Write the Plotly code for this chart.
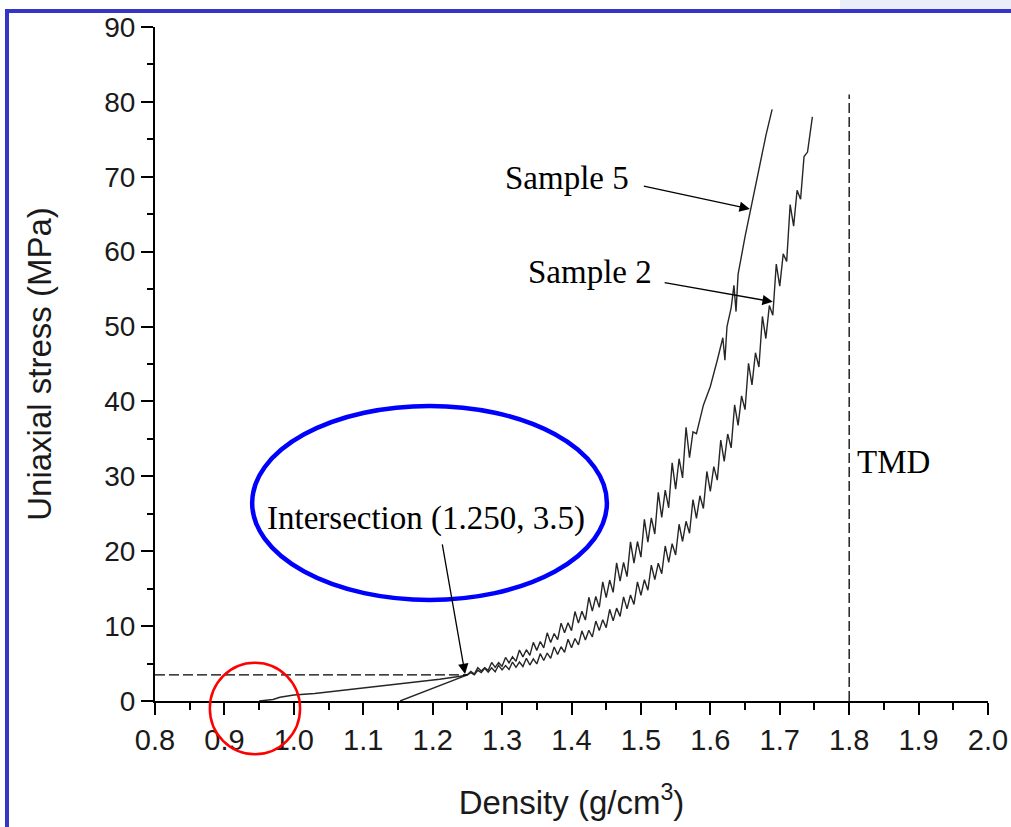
import plotly.graph_objects as go

# ---------------- data ----------------
s5_x = [0.950, 0.970, 0.980, 1.000, 1.030, 1.060, 1.090, 1.120, 1.150, 1.180, 1.210, 1.240, 1.250,
        1.255, 1.260, 1.265, 1.270, 1.275, 1.280, 1.285, 1.290, 1.295, 1.300,
        1.305, 1.310, 1.315, 1.320, 1.325, 1.330, 1.335, 1.340, 1.345, 1.350,
        1.355, 1.360, 1.365, 1.370, 1.375, 1.380, 1.385, 1.390, 1.395, 1.400,
        1.405, 1.410, 1.415, 1.420, 1.425, 1.430, 1.435, 1.440, 1.445, 1.450,
        1.455, 1.460, 1.465, 1.470, 1.475, 1.480, 1.485, 1.490, 1.495, 1.500,
        1.505, 1.510, 1.515, 1.520, 1.525, 1.530, 1.535, 1.540, 1.545, 1.550,
        1.555, 1.560, 1.565, 1.570, 1.575, 1.580,
        1.590, 1.600, 1.610, 1.618, 1.621, 1.624, 1.630, 1.634, 1.637, 1.640,
        1.650, 1.660, 1.670, 1.680, 1.689]
s5_y = [0.0, 0.2, 0.5, 0.8, 1.0, 1.3, 1.6, 1.9, 2.2, 2.5, 2.9, 3.3, 3.5,
        3.95, 3.6, 4.45, 4.0, 4.45, 4.1, 5.15, 4.5, 5.12, 4.65,
        5.82, 5.1, 5.9, 5.3, 6.8, 5.9, 6.85, 6.1, 7.83, 6.76,
        7.93, 7.1, 9.1, 7.8, 9.0, 8.2, 10.4, 9.1, 10.45, 9.4,
        11.95, 10.4, 12.0, 10.8, 13.85, 12.0, 13.95, 12.5, 15.9, 13.8,
        16.15, 14.5, 18.45, 16.0, 18.5, 16.6, 21.25, 18.4, 21.3, 19.2,
        24.25, 21.2, 24.45, 22.3, 27.85, 24.5, 28.15, 25.8, 31.8, 28.3,
        32.35, 29.8, 36.55, 32.5, 35.95, 35.7,
        39.5, 42.0, 45.5, 48.5, 45.5, 50.0, 52.5, 55.5, 52.0, 57.0,
        62.0, 66.5, 71.0, 75.5, 79.0]

s2_x = [1.153, 1.170, 1.190, 1.210, 1.230, 1.250,
        1.255, 1.260, 1.265, 1.270, 1.275, 1.280, 1.285, 1.290, 1.295, 1.300,
        1.305, 1.310, 1.315, 1.320, 1.325, 1.330, 1.335, 1.340, 1.345, 1.350,
        1.355, 1.360, 1.365, 1.370, 1.375, 1.380, 1.385, 1.390, 1.395, 1.400,
        1.405, 1.410, 1.415, 1.420, 1.425, 1.430, 1.435, 1.440, 1.445, 1.450,
        1.455, 1.460, 1.465, 1.470, 1.475, 1.480, 1.485, 1.490, 1.495, 1.500,
        1.505, 1.510, 1.515, 1.520, 1.525, 1.530, 1.535, 1.540, 1.545, 1.550,
        1.555, 1.560, 1.565, 1.570, 1.575, 1.580, 1.585, 1.590, 1.595, 1.600,
        1.605, 1.610, 1.615, 1.620, 1.625, 1.630, 1.635, 1.640, 1.645, 1.650,
        1.655, 1.660, 1.665, 1.670, 1.675, 1.680, 1.685, 1.690, 1.695, 1.700,
        1.705, 1.710, 1.715, 1.720, 1.725, 1.730, 1.735, 1.740, 1.747]
s2_y = [0.0, 0.6, 1.3, 2.0, 2.7, 3.5,
        3.8, 3.5, 4.1, 3.8, 4.37, 3.85, 4.42, 3.9, 4.77, 4.15,
        4.72, 4.2, 5.2, 4.5, 5.2, 4.6, 5.7, 4.8, 5.62, 4.95,
        6.32, 5.4, 6.4, 5.7, 7.2, 6.2, 7.25, 6.5, 8.25, 7.1,
        8.35, 7.5, 9.37, 8.15, 9.45, 8.55, 10.67, 9.4, 10.85, 9.8,
        12.25, 10.7, 12.4, 11.3, 13.9, 12.3, 14.15, 12.9, 15.9, 14.1,
        16.2, 14.8, 18.15, 16.2, 18.4, 17.0, 20.7, 18.5, 21.0, 19.5,
        23.6, 21.3, 24.0, 22.4, 26.9, 24.4, 27.4, 25.7, 30.65, 28.0,
        31.3, 29.5, 34.85, 32.0, 35.65, 33.8, 39.55, 36.8, 40.75, 38.9,
        45.1, 42.2, 46.5, 44.6, 51.35, 48.4, 52.8, 51.5, 58.35, 55.4,
        59.7, 58.7, 66.3, 63.4, 68.2, 67.0, 72.7, 73.3, 78.0]

hline_x = [0.8, 1.25]
hline_y = [3.5, 3.5]
tmd_x = [1.8, 1.8]
tmd_y = [0.0, 81.0]

x_ticks = [0.8, 0.9, 1.0, 1.1, 1.2, 1.3, 1.4, 1.5, 1.6, 1.7, 1.8, 1.9, 2.0]
y_ticks = [0, 10, 20, 30, 40, 50, 60, 70, 80, 90]

XR = [0.8, 2.0]
YR = [0.0, 90.0]

def px(x):
    return (x - XR[0]) / (XR[1] - XR[0])

def py(y):
    return (y - YR[0]) / (YR[1] - YR[0])

line_col = "#262626"
fig = go.Figure()
fig.add_trace(go.Scatter(x=s5_x, y=s5_y, mode="lines", line=dict(color=line_col, width=1.4),
                         name="Sample 5", showlegend=False))
fig.add_trace(go.Scatter(x=s2_x, y=s2_y, mode="lines", line=dict(color=line_col, width=1.4),
                         name="Sample 2", showlegend=False))
fig.add_trace(go.Scatter(x=hline_x, y=hline_y, mode="lines",
                         line=dict(color="black", width=1.3, dash="10px,4px"), showlegend=False))
fig.add_trace(go.Scatter(x=tmd_x, y=tmd_y, mode="lines",
                         line=dict(color="black", width=1.3, dash="10px,4px"), showlegend=False))

serif = dict(family="Liberation Serif, Times New Roman, serif", size=33, color="black")

arrow = dict(text="", showarrow=True, arrowhead=2, arrowsize=1.6, arrowwidth=1.3,
             arrowcolor="black", axref="x", ayref="y", xref="x", yref="y")
annotations = [
    dict(x=1.394, y=69.8, text="Sample 5", showarrow=False, font=serif, xref="x", yref="y"),
    dict(x=1.427, y=57.3, text="Sample 2", showarrow=False, font=serif, xref="x", yref="y"),
    dict(x=1.19, y=24.4, text="Intersection (1.250, 3.5)", showarrow=False, font=serif,
         xref="x", yref="y"),
    dict(x=1.809, y=31.9, text="TMD", showarrow=False, font=serif, xref="x", yref="y",
         xanchor="left"),
    dict(x=1.657, y=65.7, ax=1.502, ay=68.8, **arrow),
    dict(x=1.690, y=53.3, ax=1.532, ay=55.9, **arrow),
    dict(x=1.2467, y=3.6, ax=1.2135, ay=21.1, **arrow),
]

# decoration positions in data units
ell = dict(x0=0.94, x1=1.451, y0=13.5, y1=39.4)
circ = dict(x0=0.879, x1=1.009, y0=-7.1, y1=5.1)

# the page's body margin is removed below, so the figure sits at (0, 0)
W, H = 1011, 827
ML, MR, MT, MB = 155, 23, 27, 126
PW, PH = W - ML - MR, H - MT - MB

def fx(pix):  # figure pixel -> paper x
    return (pix - ML) / PW

def fy(pix):  # figure pixel (from top) -> paper y
    return (H - MB - pix) / PH

frame_col = "#3535c8"
shapes = [
    dict(type="circle", xref="x", yref="y", **ell, line=dict(color="#0000ff", width=4.5)),
    dict(type="circle", xref="paper", yref="paper", x0=px(circ["x0"]), x1=px(circ["x1"]),
         y0=py(circ["y0"]), y1=py(circ["y1"]), line=dict(color="#ff0000", width=2.5)),
    # slide frame
    dict(type="rect", xref="paper", yref="paper", x0=fx(840), x1=fx(W + 5), y0=fy(0), y1=fy(9),
         fillcolor="#e9eef9", line=dict(width=0), layer="below"),
    dict(type="line", xref="paper", yref="paper", x0=fx(5), x1=fx(W + 5), y0=fy(11), y1=fy(11),
         line=dict(color=frame_col, width=4)),
    dict(type="line", xref="paper", yref="paper", x0=fx(7), x1=fx(7), y0=fy(9), y1=fy(H + 5),
         line=dict(color=frame_col, width=4)),
]

sans = "Liberation Sans, Arial, sans-serif"
fig.update_layout(
    width=W, height=H,
    margin=dict(l=ML, r=MR, t=MT, b=MB, autoexpand=False),
    paper_bgcolor="white", plot_bgcolor="white",
    annotations=annotations, shapes=shapes,
    showlegend=False,
    xaxis=dict(range=XR, tickvals=x_ticks, ticktext=[f"{v:.1f}" for v in x_ticks],
               showgrid=False, zeroline=False, showline=True, linecolor="black", linewidth=2,
               ticks="outside", ticklen=12, tickwidth=2, tickcolor="black",
               minor=dict(dtick=0.05, ticks="outside", ticklen=7, tickwidth=2, tickcolor="black"),
               tickfont=dict(family=sans, size=29, color="#1a1a1a"),
               automargin=False,
               title=dict(text="Density (g/cm<sup>3</sup>)", font=dict(family=sans, size=33, color="#1a1a1a"),
                          standoff=36)),
    yaxis=dict(range=YR, tickvals=y_ticks, showgrid=False, zeroline=False, showline=True,
               linecolor="black", linewidth=2,
               ticks="outside", ticklen=12, tickwidth=2, tickcolor="black",
               minor=dict(dtick=5, ticks="outside", ticklen=6, tickwidth=2, tickcolor="black"),
               tickfont=dict(family=sans, size=28, color="#1a1a1a"),
               automargin=False,
               title=dict(text="Uniaxial stress (MPa)", font=dict(family=sans, size=33, color="#1a1a1a"),
                          standoff=43)),
)

fig.write_html("out.html", config={"displayModeBar": False},
               post_script="document.body.style.margin='0';document.body.style.overflow='hidden';")
